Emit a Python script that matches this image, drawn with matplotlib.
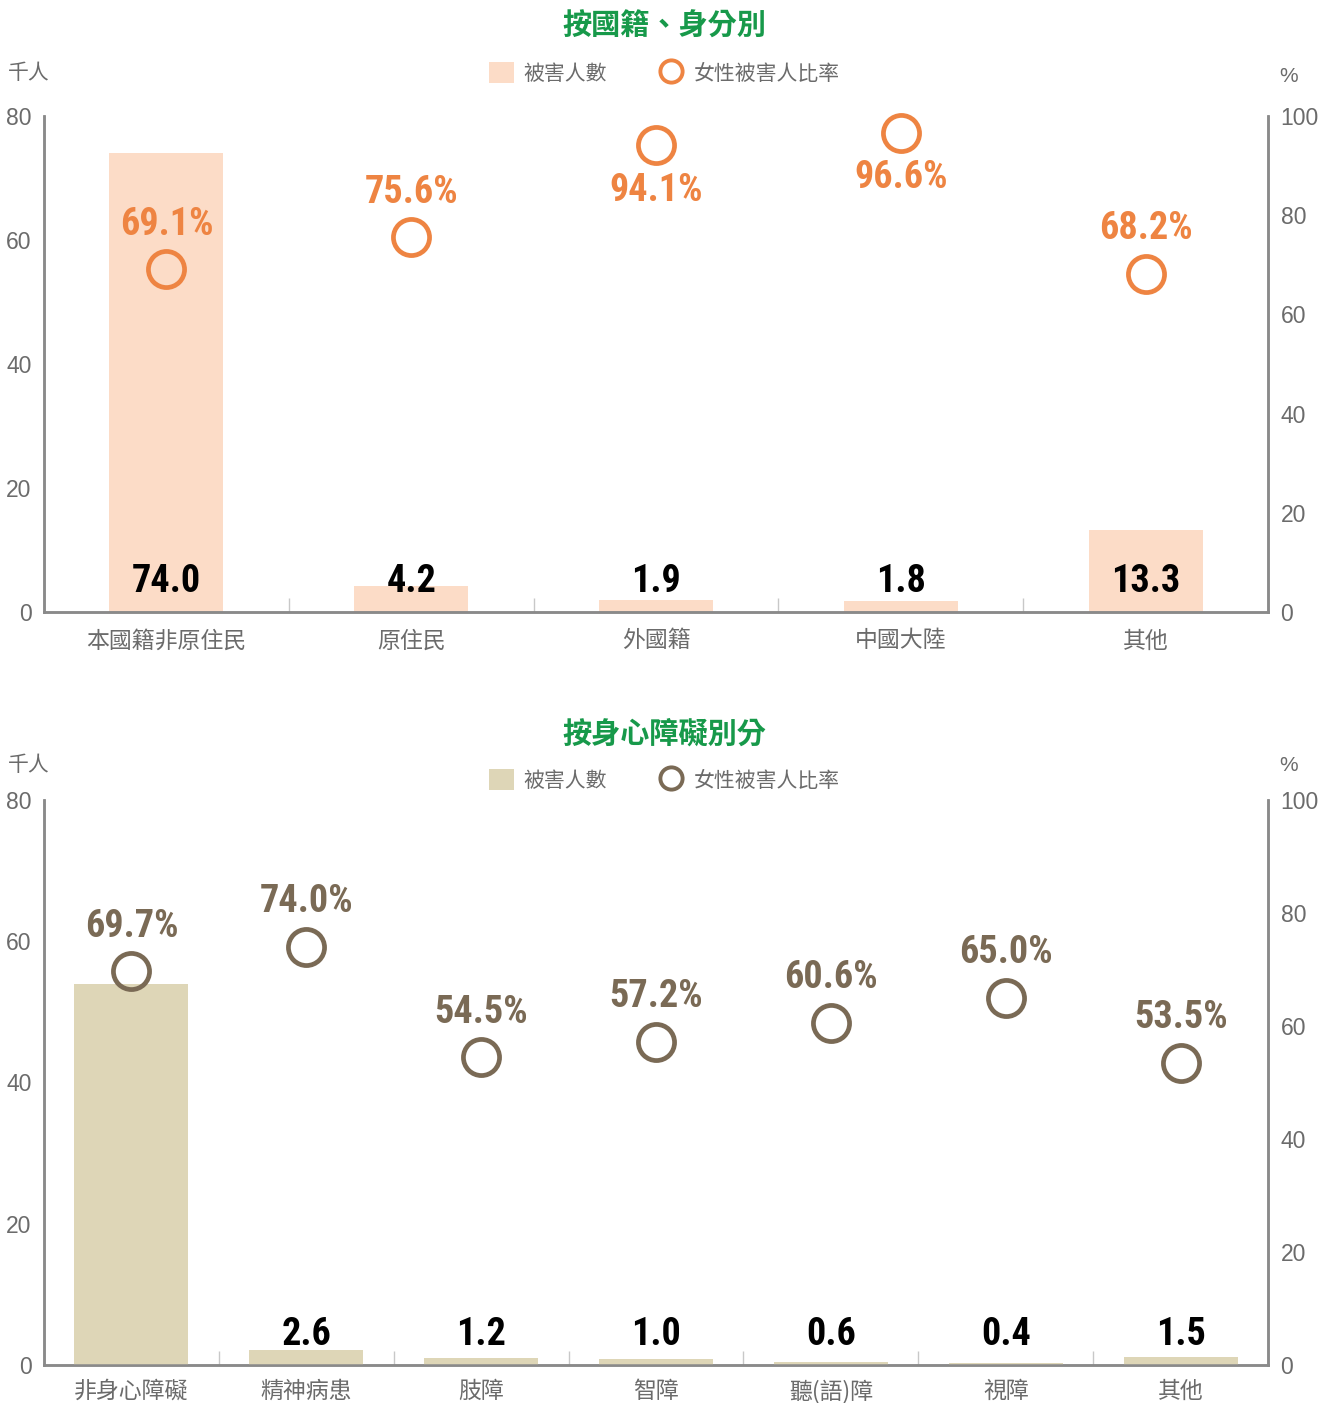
import matplotlib
matplotlib.use('Agg')
import matplotlib.pyplot as plt
from matplotlib import font_manager as fm
from matplotlib.patches import Patch
from matplotlib.lines import Line2D

plt.rcParams['font.family'] = ['Liberation Sans', 'Noto Sans CJK TC', 'DejaVu Sans']

# 按國籍、身分別
nat_cats = ['本國籍非原住民', '原住民', '外國籍', '中國大陸', '其他']
nat_counts = [74.0, 4.2, 1.9, 1.8, 13.3]
nat_pct = [69.1, 75.6, 94.1, 96.6, 68.2]

# 按身心障礙別分
dis_cats = ['非身心障礙', '精神病患', '肢障', '智障', '聽(語)障', '視障', '其他']
dis_counts = [67.5, 2.6, 1.2, 1.0, 0.6, 0.4, 1.5]
dis_pct = [69.7, 74.0, 54.5, 57.2, 60.6, 65.0, 53.5]

left_ticks = [0, 20, 40, 60, 80]
right_ticks = [0, 20, 40, 60, 80, 100]

GRAY = '#6b6b6b'
SPINE = '#8a8a8a'
GREEN = '#17994a'
CJK = ['Noto Sans CJK TC', 'DejaVu Sans']


def pick_narrow():
    # look for any condensed / narrow face that is installed
    keys = ('Condensed', 'Narrow', 'Compressed')
    narrow_stretch = ('ultra-condensed', 'extra-condensed', 'condensed', 'semi-condensed')
    found = []
    for f in fm.fontManager.ttflist:
        if any(k in f.name for k in keys) or f.stretch in narrow_stretch:
            found.append((f.name, f.stretch))
    for pref in ('Roboto Condensed', 'Open Sans Condensed', 'Liberation Sans Narrow',
                 'Noto Sans Condensed', 'DejaVu Sans Condensed'):
        for name, st in found:
            if name == pref:
                return name, st, True
    if found:
        return found[0][0], found[0][1], True
    return 'DejaVu Sans', 'normal', False


NUM_NAME, NUM_STRETCH, NUM_OK = pick_narrow()
NUM_SIZE = 27.5 if NUM_OK else 22

fig = plt.figure(figsize=(13.31, 14.03), dpi=100)


def panel(rect, title, title_y, legend_y, unit_y, pct_y, cats, counts, pct,
          bar_color, mk_color, bar_width, bars_on_right, xpad):
    ax = fig.add_axes(rect)
    ax2 = ax.twinx()
    n = len(cats)
    x = list(range(n))

    bar_ax = ax2 if bars_on_right else ax
    bar_ax.bar(x, counts, width=bar_width, color=bar_color, zorder=1)
    ax2.plot(x, pct, linestyle='none', marker='o', markersize=26,
             markerfacecolor='none', markeredgecolor=mk_color,
             markeredgewidth=3.4, zorder=3, clip_on=False)

    for xi, c in zip(x, counts):
        ax.annotate(f'{c:.1f}', (xi, 0), xytext=(0, 8.5), textcoords='offset points',
                    ha='center', va='bottom', fontsize=NUM_SIZE, fontweight='bold',
                    family=[NUM_NAME, 'DejaVu Sans'], fontstretch=NUM_STRETCH,
                    color='black', zorder=5)
    for xi, p in zip(x, pct):
        # labels near the top of the scale go under the circle
        if p > 90:
            off, va = (0, -19), 'top'
        else:
            off, va = (0, 19), 'bottom'
        ax2.annotate(f'{p:.1f}%', (xi, p), xytext=off, textcoords='offset points',
                     ha='center', va=va, fontsize=NUM_SIZE, fontweight='bold',
                     family=[NUM_NAME, 'DejaVu Sans'], fontstretch=NUM_STRETCH,
                     color=mk_color, zorder=5)

    ax.set_xlim(-0.5, n - 0.5)
    ax.set_ylim(0, 80)
    ax2.set_ylim(0, 100)
    ax.set_yticks(left_ticks)
    ax2.set_yticks(right_ticks)
    ax.set_xticks(x)
    ax.set_xticklabels(cats, family=CJK)
    ax.set_xticks([i + 0.5 for i in range(n - 1)], minor=True)
    ax.tick_params(axis='x', which='major', length=0, pad=xpad, labelsize=16.5,
                   labelcolor=GRAY)
    ax.tick_params(axis='x', which='minor', direction='in', length=10,
                   width=1, color='#c8c8c8')
    ax.tick_params(axis='y', length=0, pad=9, labelsize=16.5, labelcolor=GRAY)
    ax2.tick_params(axis='y', length=0, pad=9, labelsize=16.5, labelcolor=GRAY)
    for a in (ax, ax2):
        a.spines['top'].set_visible(False)
        for s in ('left', 'right', 'bottom'):
            a.spines[s].set_color(SPINE)
            a.spines[s].set_linewidth(1.8)

    fig.text(0.499, title_y, title, ha='center', va='center', fontsize=21,
             fontweight='bold', color=GREEN, family=CJK)
    fig.text(0.006, unit_y, '千人', ha='left', va='center', fontsize=15,
             color=GRAY, family=CJK)
    fig.text(0.961, pct_y, '%', ha='left', va='center', fontsize=15, color=GRAY)

    handles = [Patch(facecolor=bar_color, edgecolor='none'),
               Line2D([], [], linestyle='none', marker='o', markersize=16,
                      markerfacecolor='none', markeredgecolor=mk_color,
                      markeredgewidth=2.8)]
    leg = fig.legend(handles, ['被害人數', '女性被害人比率'], loc='center',
                     bbox_to_anchor=(0.499, legend_y), ncol=2, frameon=False,
                     fontsize=15, labelcolor=GRAY, handlelength=1.2, handleheight=1.2,
                     handletextpad=0.45, columnspacing=2.5, borderpad=0)
    for t in leg.get_texts():
        t.set_family(CJK)
    return ax, ax2


panel([0.0331, 0.5638, 0.9196, 0.3535], '按國籍、身分別', 0.9818, 0.9478, 0.9478,
      0.9455, nat_cats, nat_counts, nat_pct, '#fcdcc7', '#ee8442', 0.466, False, 12.5)
panel([0.0331, 0.0271, 0.9196, 0.4027], '按身心障礙別分', 0.4772, 0.4438, 0.4547,
      0.4547, dis_cats, dis_counts, dis_pct, '#ded6b7', '#7a6a55', 0.652, True, 10.5)

fig.savefig('out.png', dpi=100)
